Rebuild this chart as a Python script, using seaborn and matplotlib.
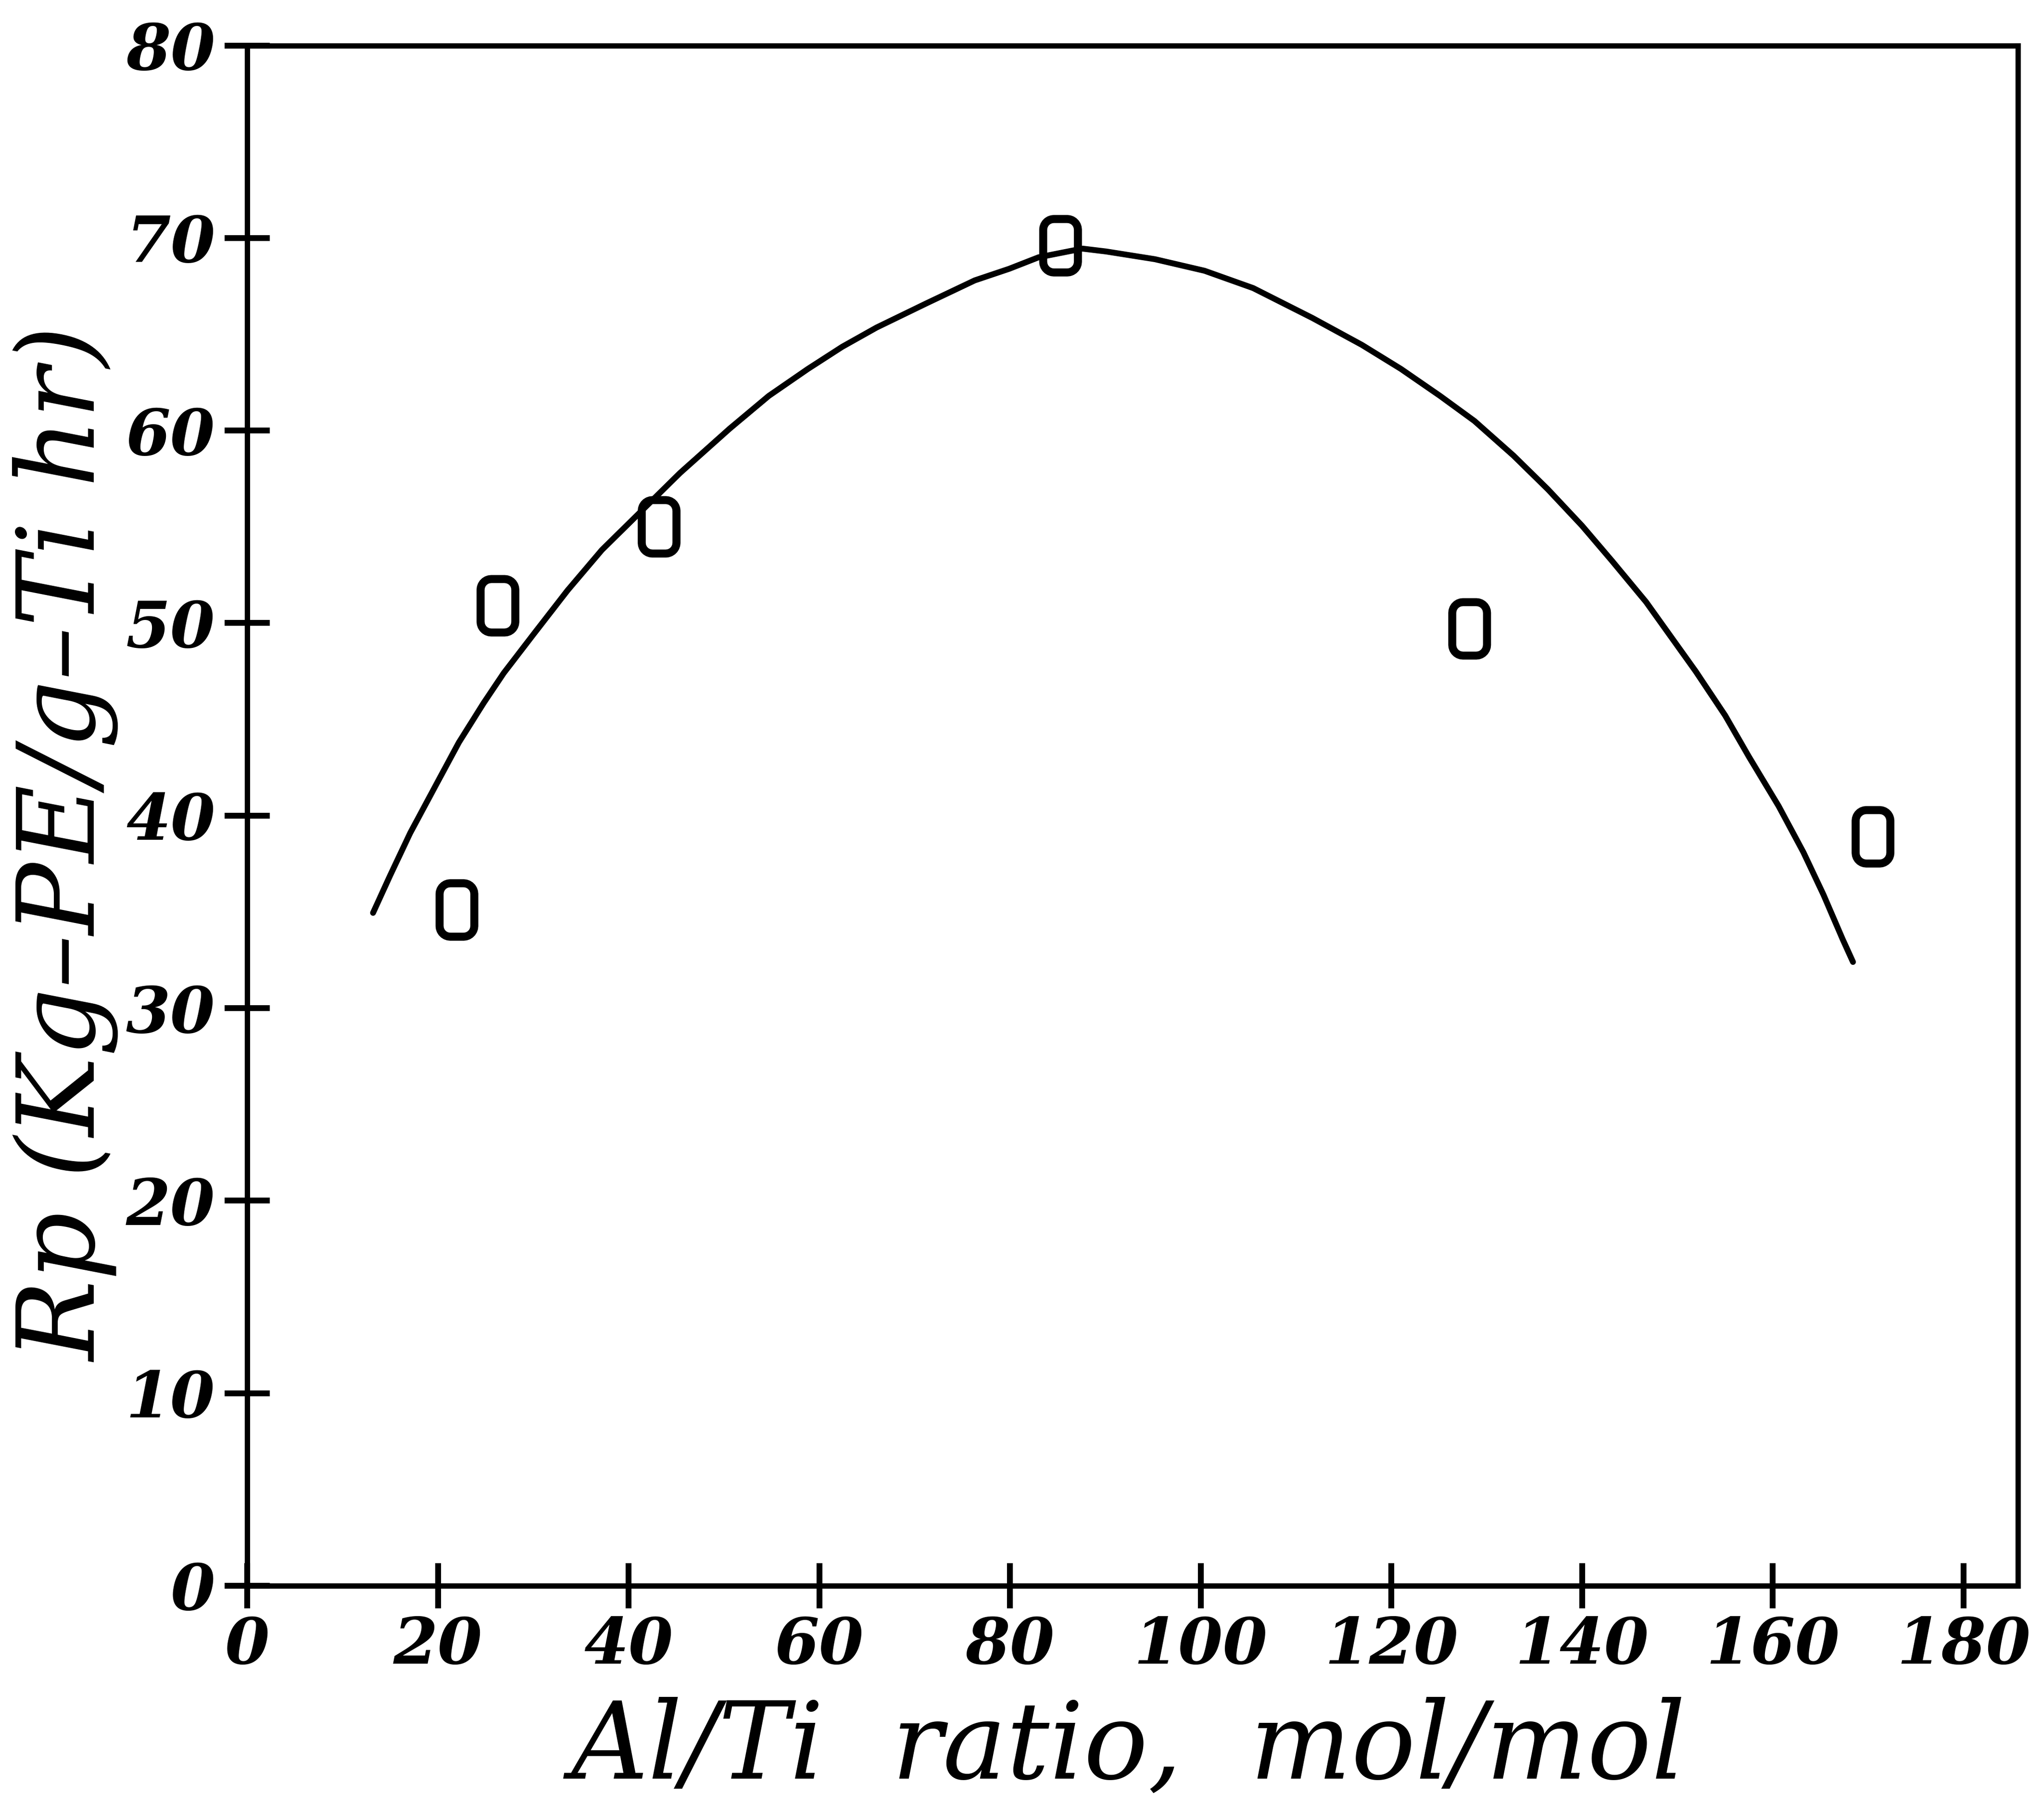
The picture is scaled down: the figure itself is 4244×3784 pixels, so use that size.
import numpy as np
import pandas as pd
import matplotlib
matplotlib.use("Agg")
import matplotlib.pyplot as plt
from matplotlib.path import Path
import seaborn as sns

# Measured polymerization rate vs. Al/Ti ratio
al_ti_ratio = [22.0, 26.3, 43.2, 85.3, 128.2, 170.5]
rate_rp = [35.1, 50.9, 55.0, 69.6, 49.7, 38.9]

# Fitted trend curve, sampled along its length
curve_x = [13.2, 15.0, 17.1, 19.7, 22.2, 24.8, 26.9, 30.0, 33.6, 37.2,
           41.3, 45.4, 50.6, 54.7, 58.8, 62.4, 66.0, 71.2, 76.3, 79.9,
           83.0, 87.6, 90.1, 95.2, 100.4, 105.5, 111.7, 116.9, 121.0,
           125.1, 128.7, 132.8, 136.4, 140.0, 143.1, 146.7, 149.3, 151.9,
           155.0, 157.5, 160.6, 163.2, 165.3, 167.3, 168.4]
curve_y = [34.95, 36.9, 39.1, 41.5, 43.8, 45.85, 47.4, 49.4, 51.7, 53.8,
           55.8, 57.8, 60.1, 61.8, 63.2, 64.35, 65.35, 66.6, 67.8, 68.4,
           69.0, 69.45, 69.3, 68.9, 68.3, 67.4, 65.85, 64.45, 63.2,
           61.8, 60.5, 58.7, 56.95, 55.05, 53.25, 51.1, 49.3, 47.5,
           45.2, 43.05, 40.5, 38.1, 35.9, 33.6, 32.4]

x_ticks = [0, 20, 40, 60, 80, 100, 120, 140, 160, 180]
y_ticks = [0, 10, 20, 30, 40, 50, 60, 70, 80]

points = pd.DataFrame({"ratio": al_ti_ratio, "rp": rate_rp})
curve = pd.DataFrame({"ratio": curve_x, "rp": curve_y})

sns.set_style("white")
plt.rcParams["font.family"] = ["DejaVu Serif"]


def rounded_box(w=0.65, h=1.0, r=0.2, n=8):
    """Closed path of a rounded rectangle, used as the point marker."""
    verts = []
    corners = [(w / 2 - r, h / 2 - r, 0), (-w / 2 + r, h / 2 - r, 90),
               (-w / 2 + r, -h / 2 + r, 180), (w / 2 - r, -h / 2 + r, 270)]
    for cx, cy, a0 in corners:
        for t in np.linspace(np.radians(a0), np.radians(a0 + 90), n):
            verts.append((cx + r * np.cos(t), cy + r * np.sin(t)))
    verts.append(verts[0])
    codes = [Path.MOVETO] + [Path.LINETO] * (len(verts) - 2) + [Path.CLOSEPOLY]
    return Path(verts, codes)


fig = plt.figure(figsize=(4244 / 400, 3784 / 400), dpi=400)
ax = fig.add_axes([0.1211, 0.1287, 0.8676, 0.8463])

sns.lineplot(data=curve, x="ratio", y="rp", ax=ax, color="black",
             linewidth=2.2, sort=False, estimator=None)
sns.scatterplot(data=points, x="ratio", y="rp", ax=ax, marker=rounded_box(),
                s=20.0 ** 2, facecolor="none", edgecolor="black",
                linewidth=3.0, zorder=3)

ax.set_xlim(0, 185.7)
ax.set_ylim(0, 80)
ax.set_xticks(x_ticks)
ax.set_yticks(y_ticks)
ax.set_xlabel("")
ax.set_ylabel("")

for side in ["left", "bottom", "top", "right"]:
    ax.spines[side].set_visible(True)
    ax.spines[side].set_color("black")
    ax.spines[side].set_linewidth(2.0)

ax.tick_params(axis="both", which="major", direction="inout", length=17,
               width=2.2, color="black", top=False, right=False,
               bottom=True, left=True)
ax.tick_params(axis="x", pad=2.5)
ax.tick_params(axis="y", pad=3.5)
for lab in ax.get_xticklabels() + ax.get_yticklabels():
    lab.set_fontsize(24)
    lab.set_fontweight("bold")
    lab.set_fontstyle("italic")
    lab.set_color("black")

fig.text(0.553, 0.0227, "Al/Ti  ratio,  mol/mol", fontsize=40,
         style="italic", ha="center", va="baseline", color="black")
fig.text(0.047, 0.536, "Rp (Kg\u2013PE/g\u2013Ti hr)", fontsize=40,
         style="italic", ha="center", va="baseline", rotation=90,
         rotation_mode="anchor", color="black")

fig.savefig("out.png", dpi=400, facecolor="white")
